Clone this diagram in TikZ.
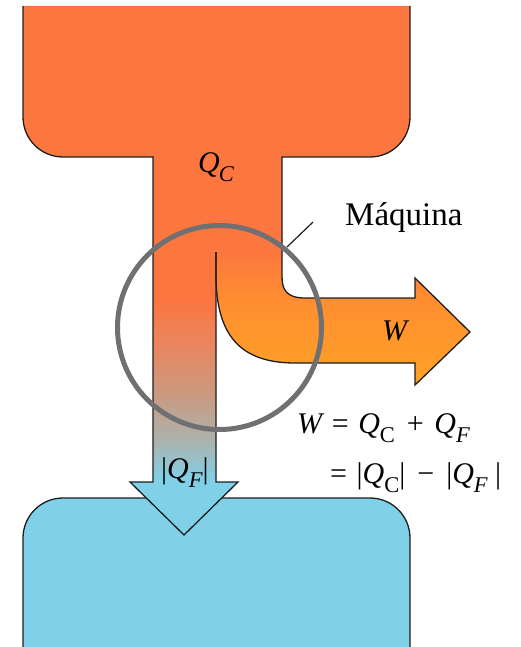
\documentclass[tikz,border=0pt]{standalone}
\usepackage{fontspec}
\setmainfont{Liberation Serif}
\definecolor{qorange}{RGB}{252,118,64}
\definecolor{qmid}{RGB}{236,132,92}
\definecolor{qtan}{RGB}{205,152,124}
\definecolor{qgray}{RGB}{172,178,172}
\definecolor{qblue}{RGB}{128,208,232}
\definecolor{wmid}{RGB}{255,142,48}
\definecolor{wbot}{RGB}{255,162,38}
\definecolor{ringgray}{RGB}{112,112,114}
\definecolor{edge}{RGB}{30,30,30}
\pgfdeclareverticalshading{stemshade}{100bp}{color(0bp)=(qblue); color(32.3bp)=(qblue); color(37.6bp)=(qgray); color(44.2bp)=(qtan); color(50.8bp)=(qmid); color(56bp)=(qorange); color(100bp)=(qorange)}
\pgfdeclareverticalshading{wshade}{100bp}{color(0bp)=(wbot); color(25bp)=(wbot); color(43.6bp)=(wmid); color(54.6bp)=(qorange); color(100bp)=(qorange)}
\newcommand{\qsb}[1]{\raisebox{-0.3em}{\scalebox{0.75}{#1}}}
\begin{document}
\begin{tikzpicture}[x=1pt,y=-1pt,
  outline/.style={draw=edge,line width=1.3pt,line join=miter},
  lbl/.style={inner sep=0pt,anchor=base west,font=\fontsize{30}{32}\selectfont},
  eqlbl/.style={lbl,font=\fontsize{30}{32}\selectfont}]
\useasboundingbox (0,0) rectangle (521,647);
% bottom reservoir
\path[fill=qblue] (23,647) -- (23,538) arc[start angle=180,end angle=270,radius=40] -- (370,498) arc[start angle=270,end angle=360,radius=40] -- (410,647) -- cycle;
\draw[outline] (23,647) -- (23,538) arc[start angle=180,end angle=270,radius=40] -- (370,498) arc[start angle=270,end angle=360,radius=40] -- (410,647);
% top reservoir
\path[fill=qorange] (23,6) -- (23,117) arc[start angle=180,end angle=90,radius=40] -- (370,157) arc[start angle=90,end angle=0,radius=40] -- (410,6) -- cycle;
\path[fill=qorange] (153,150) rectangle (282,262);
% stem towards cold reservoir
\path[shading=stemshade] (153,157) -- (153,482) -- (130,482) -- (184,535) -- (238,482) -- (216,482) -- (216,157) -- cycle;
% work branch
\path[shading=wshade] (216,157) -- (216,275) .. controls (216,335) and (240,363) .. (295,363) -- (415,363) -- (415,385) -- (470,332) -- (415,278) -- (415,298) -- (305,298) .. controls (287,298) and (282,290) .. (282,277) -- (282,157) -- cycle;
% outline
\draw[outline] (23,6) -- (23,117) arc[start angle=180,end angle=90,radius=40] -- (153,157) -- (153,482) -- (130,482) -- (184,535) -- (238,482) -- (216,482) -- (216,252);
\draw[outline] (216,252) -- (216,275) .. controls (216,335) and (240,363) .. (295,363) -- (415,363) -- (415,385) -- (470,332) -- (415,278) -- (415,298) -- (305,298) .. controls (287,298) and (282,290) .. (282,277) -- (282,157) -- (370,157) arc[start angle=90,end angle=0,radius=40] -- (410,6);
% engine ring
\node[circle,draw=ringgray,line width=5pt,minimum size=204pt,inner sep=0pt] (ring) at (219.5,327.5) {};
% labels
\node[lbl] (qc) at (198,172) {\itshape Q\kern-0.03em\qsb{C}};
\node[lbl] (w) at (382,340) {\itshape W};
\node[lbl] (qf) at (161,478) {|{\itshape Q}\qsb{\itshape F}|};
\node[lbl,font=\fontsize{33}{35}\selectfont] (maq) at (345,225) {Máquina};
\coordinate (mtip) at (287,247);
\coordinate (mend) at (313,222);
\draw[edge,line width=1.2pt] (mtip) -- (mend);
\node[eqlbl] (eq1) at (297,433) {{\itshape W}\hspace{0.32em}=\hspace{0.32em}{\itshape Q}\qsb{C}\hspace{0.4em}+\hspace{0.35em}{\itshape Q}\qsb{\itshape F}};
\node[eqlbl] (eq2) at (330,483) {=\hspace{0.32em}|{\itshape Q}\qsb{C}|\hspace{0.4em}−\hspace{0.4em}|{\itshape Q}\qsb{\itshape F}\hspace{0.25em}|};
\end{tikzpicture}
\end{document}
